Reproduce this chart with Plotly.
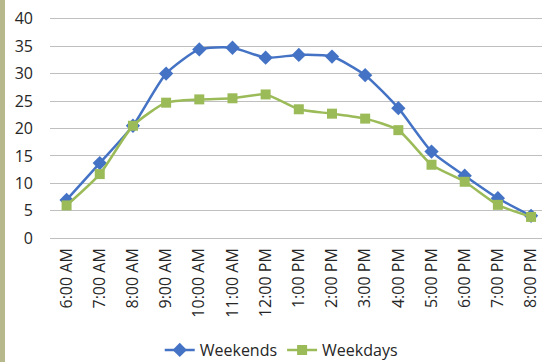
import plotly.graph_objects as go

hours = ["6:00 AM", "7:00 AM", "8:00 AM", "9:00 AM", "10:00 AM", "11:00 AM", "12:00 PM",
         "1:00 PM", "2:00 PM", "3:00 PM", "4:00 PM", "5:00 PM", "6:00 PM", "7:00 PM", "8:00 PM"]
weekends = [7.0, 13.7, 20.5, 30.0, 34.4, 34.7, 32.9, 33.4, 33.1, 29.7, 23.7, 15.8, 11.4, 7.3, 4.1]
weekdays = [6.0, 11.7, 20.5, 24.7, 25.3, 25.5, 26.2, 23.5, 22.7, 21.8, 19.7, 13.4, 10.3, 6.1, 3.9]
y_ticks = [0, 5, 10, 15, 20, 25, 30, 35, 40]

W, H = 542, 362
ml, mr, mt, mb = 50, 0, 17, 122
pw = W - ml - mr
ph = H - mt - mb

fig = go.Figure()
fig.add_trace(go.Scatter(
    x=list(range(len(hours))), y=weekends, name="Weekends", mode="lines+markers",
    line=dict(color="#4472C4", width=2.5, shape="spline", smoothing=0.6),
    marker=dict(symbol="diamond", size=11, color="#4472C4"),
))
fig.add_trace(go.Scatter(
    x=list(range(len(hours))), y=weekdays, name="Weekdays", mode="lines+markers",
    line=dict(color="#9BBB59", width=2.5, shape="spline", smoothing=0.6),
    marker=dict(symbol="square", size=10, color="#9BBB59"),
))

fig.update_layout(
    width=W, height=H,
    margin=dict(l=ml, r=mr, t=mt, b=mb, autoexpand=False),
    paper_bgcolor="white", plot_bgcolor="white",
    font=dict(family="Open Sans", size=14, color="#262626"),
    showlegend=True,
    legend=dict(orientation="h", x=0.47, xanchor="center", y=-(350 - mt - ph) / ph,
                yanchor="middle", font=dict(size=16, color="#262626"),
                bgcolor="rgba(0,0,0,0)", itemwidth=30, tracegroupgap=0),
    xaxis=dict(
        tickmode="array", tickvals=list(range(len(hours))), ticktext=hours,
        range=[-0.5, 14.33], tickangle=-90, showgrid=False, zeroline=False,
        showline=False, ticks="", ticklen=0, tickfont=dict(size=16),
        automargin=False, ticklabelstandoff=4,
    ),
    yaxis=dict(
        range=[-0.3, 40.3], tickmode="array", tickvals=y_ticks, showgrid=True,
        gridcolor="#BFBFBF", gridwidth=1, zeroline=False, showline=False,
        ticks="", tickfont=dict(size=16), ticklabelstandoff=16, automargin=False,
    ),
    shapes=[dict(type="rect", xref="paper", yref="paper",
                 x0=-ml / pw, x1=(5 - ml) / pw, y0=-mb / ph, y1=1 + mt / ph,
                 fillcolor="#B7B98C", line=dict(width=0), layer="above")],
)

fig.write_html("out.html", config={"displayModeBar": False},
               post_script="document.body.style.margin='0';document.body.style.overflow='hidden';")
